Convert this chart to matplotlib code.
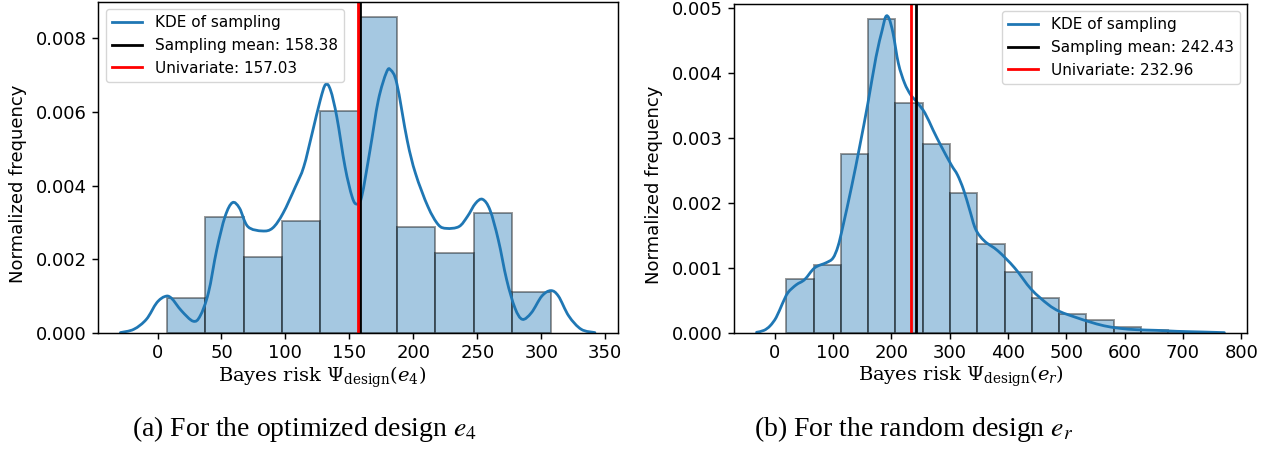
import numpy as np
import matplotlib
matplotlib.use('Agg')
import matplotlib.pyplot as plt
from matplotlib.path import Path
from matplotlib.patches import PathPatch

plt.rcParams['font.family'] = ['DejaVu Sans']
plt.rcParams['axes.linewidth'] = 1.05
plt.rcParams['xtick.major.width'] = 1.05
plt.rcParams['ytick.major.width'] = 1.05
plt.rcParams['xtick.major.size'] = 4.5
plt.rcParams['ytick.major.size'] = 4.5

# (a) optimized design e4
bins_a = [7.3, 37.3, 67.3, 97.3, 127.3, 157.3, 187.3, 217.3, 247.3, 277.3, 307.3]
dens_a = [0.00096, 0.00316, 0.00207, 0.00304, 0.00603, 0.00858, 0.00289, 0.00217, 0.00327, 0.00112]
kde_a_x = [-29, -18.5, -8.7, -0.6, 5.8, 10.7, 18.8, 27.8, 33.3, 39.8, 46.3, 52.8, 58.6, 64.1,
           70.6, 81.9, 90.0, 98.1, 107.8, 114.3, 120.8, 127.2, 131.4, 135.3, 140.2, 146.6,
           152.1, 155.7, 159.6, 166.1, 172.6, 179.0, 182.3, 187.1, 195.2, 201.7, 211.4,
           219.5, 226.0, 235.7, 242.2, 248.6, 254.1, 259.9, 266.4, 272.9, 279.4, 285.2,
           292.3, 300.4, 307.5, 313.4, 321.5, 331.2, 341.9]
kde_a_y = [0.00001, 0.0001, 0.00037, 0.00082, 0.00099, 0.00095, 0.0006, 0.00032, 0.00046,
           0.00109, 0.00226, 0.00316, 0.00354, 0.00339, 0.00289, 0.00277, 0.00285, 0.00325,
           0.00397, 0.00451, 0.00541, 0.00632, 0.00675, 0.00659, 0.00586, 0.00451, 0.0037,
           0.0035, 0.0037, 0.00496, 0.00632, 0.00708, 0.00714, 0.00677, 0.00523, 0.00433,
           0.00343, 0.00294, 0.00284, 0.00289, 0.00316, 0.00352, 0.00363, 0.00334, 0.00253,
           0.00145, 0.00068, 0.00037, 0.00055, 0.001, 0.00115, 0.001, 0.00046, 0.0001, 0.00001]
mean_a = 158.38
univ_a = 157.03

# (b) random design e_r
bins_b = [20.2, 67.0, 113.7, 160.5, 207.2, 254.0, 300.7, 347.5, 394.2, 441.0, 487.7,
          534.5, 581.2, 628.0, 674.7, 721.5]
dens_b = [0.00083, 0.00105, 0.00275, 0.00482, 0.00354, 0.0029, 0.00215, 0.00137, 0.00094,
          0.00054, 0.00029, 0.0002, 0.00009, 0.00005, 0.00002]
kde_b_x = [-31, -18.2, -7.7, 2.8, 13.3, 22.9, 37.1, 51.4, 68.6, 88.6, 100, 108.6, 117.1,
           132, 145.9, 159.9, 173.8, 184.3, 190.5, 196.2, 203.1, 212.2, 222.7, 233.2,
           243.6, 257.6, 271.5, 285.5, 303, 313.4, 323.9, 334.4, 344.8, 360, 382.9, 411.4,
           440, 468.6, 488.6, 519.4, 540.3, 564.7, 592.7, 620.6, 655.5, 690.4, 732.3, 771]
kde_b_y = [0.00001, 0.00004, 0.00011, 0.00024, 0.00045, 0.00062, 0.00074, 0.00082, 0.001,
           0.00108, 0.00115, 0.00133, 0.00164, 0.00225, 0.00287, 0.00353, 0.00424, 0.00465,
           0.00486, 0.00483, 0.0046, 0.00414, 0.00384, 0.00366, 0.00355, 0.00338, 0.00312,
           0.00287, 0.00258, 0.00243, 0.0022, 0.00189, 0.00159, 0.00141, 0.00126, 0.001,
           0.00067, 0.00044, 0.00033, 0.00023, 0.00017, 0.00011, 0.00007, 0.00005, 0.00004,
           0.000025, 0.000015, 0.000005]
mean_b = 242.43
univ_b = 232.96

KDE_COLOR = '#1f77b4'


def smooth_path(x, y):
    # Catmull-Rom through the read points, drawn as cubic Bezier segments
    p = np.column_stack([x, y])
    verts = [p[0]]
    codes = [Path.MOVETO]
    n = len(p)
    for i in range(n - 1):
        p0 = p[i - 1] if i > 0 else p[i]
        p3 = p[i + 2] if i + 2 < n else p[i + 1]
        c1 = p[i] + (p[i + 1] - p0) / 6.0
        c2 = p[i + 1] - (p3 - p[i]) / 6.0
        verts += [c1, c2, p[i + 1]]
        codes += [Path.CURVE4] * 3
    return Path(verts, codes)


def draw(ax, bins, dens, kx, ky, mean, univ):
    ax.bar(bins[:-1], dens, width=np.diff(bins), align='edge', color=KDE_COLOR,
           alpha=0.4, edgecolor='black', linewidth=1.4)
    ax.add_patch(PathPatch(smooth_path(kx, ky), facecolor='none', edgecolor=KDE_COLOR,
                           lw=2.0, capstyle='round', joinstyle='round'))
    ax.plot([], [], color=KDE_COLOR, lw=2.0, label='KDE of sampling')
    ax.axvline(mean, color='black', lw=2.0, label=f'Sampling mean: {mean:.2f}')
    ax.axvline(univ, color='red', lw=2.0, label=f'Univariate: {univ:.2f}')
    ax.set_ylabel('Normalized frequency', fontsize=13)
    ax.yaxis.set_label_coords(-0.137, 0.45)
    ax.tick_params(labelsize=13)


fig = plt.figure(figsize=(12.73, 4.53), dpi=100)
ax1 = fig.add_axes([0.0770, 0.265, 0.4085, 0.7315])
ax2 = fig.add_axes([0.5762, 0.265, 0.4037, 0.7270])

draw(ax1, bins_a, dens_a, kde_a_x, kde_a_y, mean_a, univ_a)
ax1.set_xlim(-46.5, 360)
ax1.set_ylim(0, 0.009)
ax1.set_xticks(np.arange(0, 351, 50))
ax1.set_yticks([0, 0.002, 0.004, 0.006, 0.008])
ax1.set_xlabel(r'Bayes risk $\Psi_{\mathrm{design}}(e_4)$', fontsize=14,
               family='DejaVu Serif', math_fontfamily='dejavuserif')
ax1.xaxis.set_label_coords(0.431, -0.095)
ax1.legend(loc='upper left', fontsize=11, handlelength=2.0)

draw(ax2, bins_b, dens_b, kde_b_x, kde_b_y, mean_b, univ_b)
ax2.set_xlim(-70.5, 810.5)
ax2.set_ylim(0, 0.00506)
ax2.set_xticks(np.arange(0, 801, 100))
ax2.set_yticks([0, 0.001, 0.002, 0.003, 0.004, 0.005])
ax2.set_xlabel(r'Bayes risk $\Psi_{\mathrm{design}}(e_r)$', fontsize=14,
               family='DejaVu Serif', math_fontfamily='dejavuserif')
ax2.xaxis.set_label_coords(0.443, -0.095)
ax2.legend(loc='upper right', fontsize=11, handlelength=2.0)

fig.text(0.239, 0.0375, r'(a) For the optimized design $e_4$', ha='center', va='baseline',
         fontsize=20, family='Liberation Serif', math_fontfamily='stix')
fig.text(0.718, 0.0375, r'(b) For the random design $e_r$', ha='center', va='baseline',
         fontsize=20, family='Liberation Serif', math_fontfamily='stix')

fig.savefig('out.png', dpi=100)
